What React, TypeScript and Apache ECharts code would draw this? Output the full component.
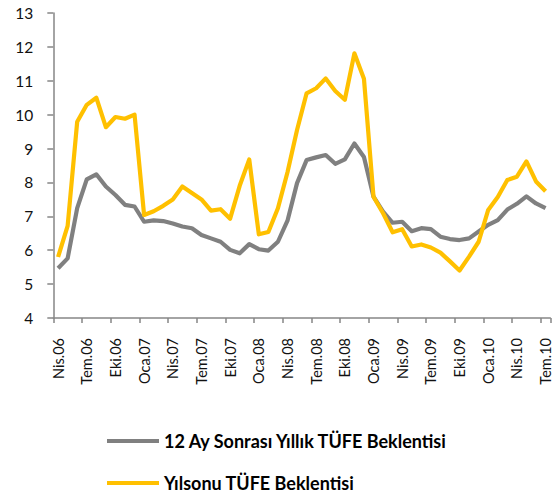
import React, { useEffect, useRef } from "react";
import * as echarts from "echarts";

const categories: string[] = [
  "Nis.06", "May.06", "Haz.06", "Tem.06", "Ağu.06", "Eyl.06", "Eki.06", "Kas.06", "Ara.06",
  "Oca.07", "Şub.07", "Mar.07", "Nis.07", "May.07", "Haz.07", "Tem.07", "Ağu.07", "Eyl.07", "Eki.07", "Kas.07", "Ara.07",
  "Oca.08", "Şub.08", "Mar.08", "Nis.08", "May.08", "Haz.08", "Tem.08", "Ağu.08", "Eyl.08", "Eki.08", "Kas.08", "Ara.08",
  "Oca.09", "Şub.09", "Mar.09", "Nis.09", "May.09", "Haz.09", "Tem.09", "Ağu.09", "Eyl.09", "Eki.09", "Kas.09", "Ara.09",
  "Oca.10", "Şub.10", "Mar.10", "Nis.10", "May.10", "Haz.10", "Tem.10",
];

const seriesNames: string[] = ["12 Ay Sonrası Yıllık TÜFE Beklentisi", "Yılsonu TÜFE Beklentisi"];

const expectation12m: number[] = [
  5.47, 5.76, 7.24, 8.09, 8.24, 7.88, 7.63, 7.34, 7.29,
  6.84, 6.88, 6.86, 6.79, 6.7, 6.65, 6.45, 6.35, 6.25, 6.01, 5.91, 6.18,
  6.03, 5.99, 6.25, 6.87, 7.98, 8.66, 8.74, 8.81, 8.55, 8.68, 9.15, 8.75,
  7.58, 7.14, 6.81, 6.84, 6.56, 6.65, 6.62, 6.4, 6.33, 6.3, 6.35, 6.55,
  6.75, 6.89, 7.2, 7.37, 7.59, 7.38, 7.24,
];

const expectationYearEnd: number[] = [
  5.8, 6.72, 9.79, 10.29, 10.5, 9.63, 9.93, 9.88, 10.0,
  7.04, 7.15, 7.31, 7.5, 7.88, 7.69, 7.5, 7.17, 7.21, 6.93, 7.9, 8.68,
  6.47, 6.54, 7.24, 8.3, 9.55, 10.63, 10.78, 11.07, 10.7, 10.44, 11.81, 11.06,
  7.58, 7.09, 6.53, 6.62, 6.11, 6.17, 6.08, 5.93, 5.67, 5.4, 5.81, 6.25,
  7.19, 7.57, 8.07, 8.17, 8.62, 8.03, 7.74,
];

const colors: string[] = ["#808080", "#FFC000"];

export default function App() {
  const ref = useRef<HTMLDivElement>(null);
  useEffect(() => {
    if (!ref.current) return;
    const chart = echarts.init(ref.current, undefined, { renderer: "svg" });
    const font = "Lato, 'Noto Sans', sans-serif";
    const legendText = {
      fontFamily: font,
      fontSize: 18,
      fontWeight: "bold" as const,
      color: "#000",
    };
    chart.setOption({
      animation: false,
      backgroundColor: "#fff",
      grid: { left: 53.3, top: 13, width: 503, height: 305, containLabel: false },
      legend: [
        {
          data: [seriesNames[0]],
          left: 102,
          top: 427,
          icon: "rect",
          itemWidth: 52,
          itemHeight: 4,
          textStyle: legendText,
        },
        {
          data: [seriesNames[1]],
          left: 102,
          top: 469,
          icon: "rect",
          itemWidth: 52,
          itemHeight: 4,
          textStyle: legendText,
        },
      ],
      xAxis: {
        type: "category",
        data: categories,
        boundaryGap: true,
        axisLine: { lineStyle: { color: "#868686", width: 1.5 } },
        axisTick: { show: true, interval: 2, length: 5, lineStyle: { color: "#868686", width: 1.5 } },
        axisLabel: {
          interval: 2,
          rotate: 90,
          margin: 20,
          fontFamily: font,
          fontSize: 14.5,
          color: "#111",
        },
        splitLine: { show: false },
      },
      yAxis: {
        type: "value",
        min: 4,
        max: 13,
        interval: 1,
        axisLine: { show: true, lineStyle: { color: "#868686", width: 1.5 } },
        axisTick: { show: true, length: 6, lineStyle: { color: "#868686", width: 1.5 } },
        axisLabel: { margin: 20, fontFamily: font, fontSize: 15.5, color: "#111" },
        splitLine: { show: false },
      },
      series: [
        {
          name: seriesNames[0],
          type: "line",
          data: expectation12m,
          symbol: "none",
          lineStyle: { color: colors[0], width: 4.2, join: "round" },
          itemStyle: { color: colors[0] },
        },
        {
          name: seriesNames[1],
          type: "line",
          data: expectationYearEnd,
          symbol: "none",
          lineStyle: { color: colors[1], width: 4.2, join: "round" },
          itemStyle: { color: colors[1] },
        },
      ],
    });
    return () => chart.dispose();
  }, []);
  return (
    <div
      ref={ref}
      style={{ position: "absolute", left: 0, top: 0, width: 553, height: 494, overflow: "hidden" }}
    />
  );
}
